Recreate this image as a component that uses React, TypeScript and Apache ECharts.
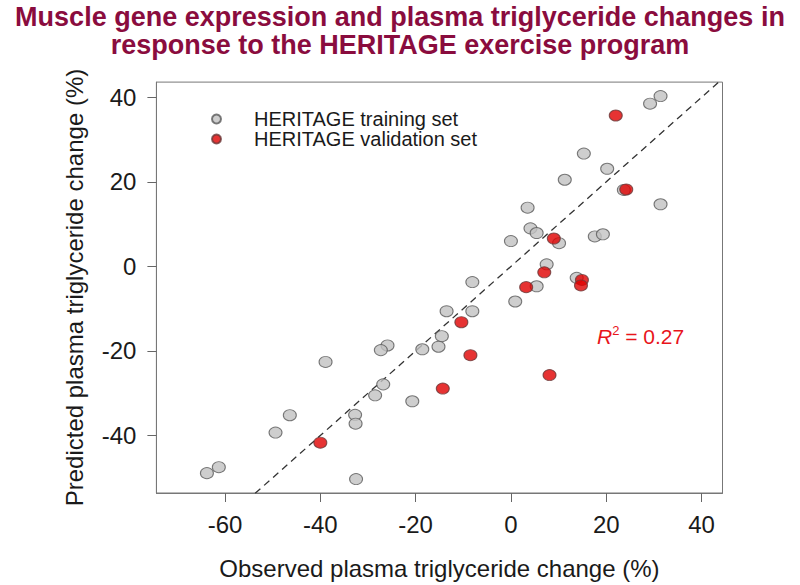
import React, { useEffect, useRef } from "react";
import * as echarts from "echarts";

const FONT = "'Liberation Sans', Arial, Helvetica, sans-serif";

const titleLines = [
  "Muscle gene expression and plasma triglyceride changes in",
  "response to the HERITAGE exercise program",
];
const seriesNames = ["HERITAGE training set", "HERITAGE validation set"];
const xAxisTitle = "Observed plasma triglyceride change (%)";
const yAxisTitle = "Predicted plasma triglyceride change (%)";

const xTicks = [-60, -40, -20, 0, 20, 40];
const yTicks = [-40, -20, 0, 20, 40];

// Training set (observed %, predicted %)
const trainObserved = [
  31.4, 29.2, 15.3, 20.2, 11.3, 23.7, 31.4, 3.5, 4.1, 5.4, 10.1, 17.6, 19.3,
  0.0, 7.5, 13.8, 5.4, 0.9, -8.1, -13.5, -8.1, -14.5, -25.9, -27.3, -18.6,
  -15.2, -38.9, -26.8, -28.5, -20.7, -46.4, -32.7, -32.6, -49.4, -61.3, -63.8,
  -32.5,
];
const trainPredicted = [
  40.3, 38.5, 26.7, 23.1, 20.5, 18.1, 14.7, 13.9, 9.0, 7.9, 5.5, 7.1, 7.6,
  6.0, 0.5, -2.7, -4.7, -8.3, -3.7, -10.6, -10.6, -16.5, -18.7, -19.8, -19.6,
  -19.0, -22.6, -27.9, -30.5, -31.9, -35.2, -35.1, -37.2, -39.3, -47.5, -48.9,
  -50.3,
];

// Validation set (observed %, predicted %)
const validObserved = [22.0, 24.2, 9.0, 7.0, 14.9, 14.7, 3.2, -10.4, -8.5, -14.3, -40.0, 8.1];
const validPredicted = [35.7, 18.2, 6.6, -1.4, -3.2, -4.5, -4.9, -13.2, -21.0, -28.9, -41.7, -25.7];

const r2Value = "0.27";

const xRange = [-74.4, 44.4];
const yRange = [-53.6, 43.6];

export default function App() {
  const ref = useRef<HTMLDivElement>(null);

  useEffect(() => {
    if (!ref.current) return;
    const chart = echarts.init(ref.current, undefined, { renderer: "svg" });

    const train = trainObserved.map((x, i) => [x, trainPredicted[i]]);
    const valid = validObserved.map((x, i) => [x, validPredicted[i]]);

    const axisCommon = {
      type: "value" as const,
      splitLine: { show: false },
      axisLine: { show: true, onZero: false, lineStyle: { color: "#777", width: 1 } },
      nameLocation: "middle" as const,
      nameTextStyle: { fontSize: 24, color: "#1a1a1a", fontFamily: FONT },
    };

    const option: any = {
      animation: false,
      backgroundColor: "#ffffff",
      title: {
        text: titleLines.join("\n"),
        left: "center",
        top: 3,
        padding: 0,
        textStyle: {
          fontSize: 27,
          fontWeight: "bold",
          color: "#8a0c3e",
          fontFamily: FONT,
          lineHeight: 28,
          align: "center",
        },
      },
      legend: {
        data: seriesNames,
        orient: "vertical",
        left: 211,
        top: 109,
        padding: 0,
        itemGap: 0,
        itemWidth: 11,
        itemHeight: 9,
        textStyle: {
          fontSize: 20,
          color: "#1a1a1a",
          fontFamily: FONT,
          lineHeight: 18,
          padding: [0, 0, 0, 27],
        },
      },
      grid: {
        left: 156.4,
        right: 77.5,
        top: 82.1,
        bottom: 87.8,
        show: true,
        borderColor: "#777",
        borderWidth: 1,
        backgroundColor: "transparent",
      },
      xAxis: {
        ...axisCommon,
        min: xRange[0],
        max: xRange[1],
        axisTick: { show: true, customValues: xTicks, length: 9, lineStyle: { color: "#666" } },
        axisLabel: { customValues: xTicks, margin: 19, fontSize: 24, color: "#1a1a1a", fontFamily: FONT },
        name: xAxisTitle,
        nameGap: 63,
      },
      yAxis: {
        ...axisCommon,
        min: yRange[0],
        max: yRange[1],
        axisTick: { show: true, customValues: yTicks, length: 9, lineStyle: { color: "#666" } },
        axisLabel: { customValues: yTicks, margin: 20, fontSize: 24, color: "#1a1a1a", fontFamily: FONT },
        name: yAxisTitle,
        nameGap: 70,
      },
      graphic: [
        {
          type: "text",
          left: 597,
          top: 324,
          style: {
            text: "{r|R}{s|2}{n| = " + r2Value + "}",
            rich: {
              r: { fontSize: 21, fontStyle: "italic", fill: "#e8141b", fontFamily: FONT, lineHeight: 24 },
              s: { fontSize: 13, fill: "#e8141b", fontFamily: FONT, verticalAlign: "top", lineHeight: 24 },
              n: { fontSize: 21, fill: "#e8141b", fontFamily: FONT, lineHeight: 24 },
            },
          },
        },
      ],
      series: [
        {
          name: "identity",
          type: "line",
          data: [
            [xRange[0], xRange[0]],
            [xRange[1], xRange[1]],
          ],
          symbol: "none",
          silent: true,
          clip: true,
          lineStyle: { color: "#333", width: 1.3, type: [7, 5] },
          z: 1,
        },
        {
          name: seriesNames[0],
          type: "scatter",
          data: train,
          symbol: "circle",
          symbolSize: [13, 11],
          itemStyle: { color: "#c2c2c2", borderColor: "#5a5a5a", borderWidth: 1 },
          z: 2,
        },
        {
          name: seriesNames[1],
          type: "scatter",
          data: valid,
          symbol: "circle",
          symbolSize: [13, 11],
          itemStyle: { color: "#e00000", borderColor: "#6a3a3a", borderWidth: 1 },
          z: 3,
        },
      ],
    };

    chart.setOption(option);
    return () => chart.dispose();
  }, []);

  return (
    <div
      ref={ref}
      style={{ position: "fixed", left: 0, top: 0, width: 800, height: 585, background: "#fff" }}
    />
  );
}
